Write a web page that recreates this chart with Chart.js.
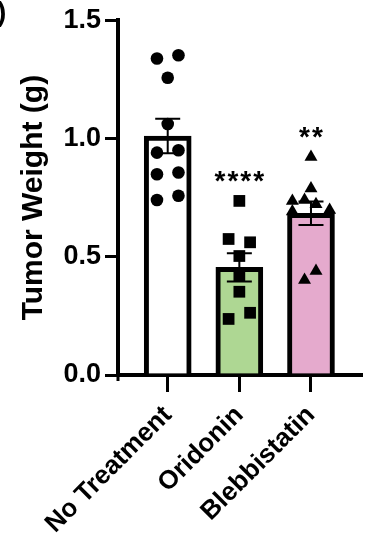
<!DOCTYPE html>
<html>
<head>
<meta charset="utf-8">
<script src="https://cdn.jsdelivr.net/npm/chart.js@4/dist/chart.umd.min.js"></script>
<style>
  html, body { margin: 0; padding: 0; background: #ffffff; }
  #wrap { width: 370px; height: 540px; }
</style>
</head>
<body>
<div id="wrap"><canvas id="c" width="370" height="540"></canvas></div>
<script>
// ---- data ----
const categories = ['No Treatment', 'Oridonin', 'Blebbistatin'];
const means = [1.01, 0.455, 0.684];
const sems = [0.073, 0.06, 0.05];
const noTreatment = [1.338, 1.352, 1.257, 1.061, 0.940, 0.950, 0.849, 0.856, 0.740, 0.758];
const oridonin = [0.736, 0.575, 0.561, 0.503, 0.419, 0.352, 0.237, 0.263];
const blebbistatin = [0.922, 0.789, 0.736, 0.740, 0.722, 0.691, 0.698, 0.402, 0.440];
const significance = ['', '****', '**'];
const yTicks = [0, 0.5, 1.0, 1.5];

// horizontal scatter (jitter) offsets, in category units
const jitterNoTreatment = [-0.15, 0.15, 0, 0, -0.15, 0.15, -0.15, 0.15, -0.15, 0.15];
const jitterOridonin = [0, -0.15, 0.15, 0, 0, 0, -0.15, 0.15];
const jitterBlebbistatin = [0, 0, -0.26, -0.09, 0.07, -0.26, 0.26, -0.09, 0.07];

const barColors = ['#ffffff', '#aed793', '#e5aacd'];
const FONT = '"Liberation Sans", Arial, Helvetica, sans-serif';

function pts(values, jitter, idx) {
  return values.map((v, i) => ({ x: idx + jitter[i], y: v }));
}

const errorBarPlugin = {
  id: 'errorBars',
  afterDatasetDraw(chart, args) {
    if (args.index !== 0) return;
    const ctx = chart.ctx;
    const xs = chart.scales.x, ys = chart.scales.y;
    ctx.save();
    ctx.strokeStyle = '#000';
    ctx.lineWidth = 2;
    means.forEach((m, i) => {
      const x = xs.getPixelForValue(i);
      const yt = ys.getPixelForValue(m + sems[i]);
      const yb = ys.getPixelForValue(m - sems[i]);
      const half = 12.5;
      ctx.beginPath();
      ctx.moveTo(x, yt); ctx.lineTo(x, yb);
      ctx.moveTo(x - half, yt); ctx.lineTo(x + half, yt);
      ctx.moveTo(x - half, yb); ctx.lineTo(x + half, yb);
      ctx.stroke();
    });
    ctx.restore();
  }
};

const annotPlugin = {
  id: 'annot',
  afterDraw(chart) {
    const ctx = chart.ctx;
    const xs = chart.scales.x, ys = chart.scales.y;
    const groups = [noTreatment, oridonin, blebbistatin];
    ctx.save();
    ctx.fillStyle = '#000';
    ctx.font = 'bold 28px ' + FONT;
    ctx.textAlign = 'center';
    ctx.textBaseline = 'middle';
    try { ctx.letterSpacing = '2px'; } catch (e) {}
    significance.forEach((s, i) => {
      if (!s) return;
      const top = Math.max(...groups[i]);
      ctx.fillText(s, xs.getPixelForValue(i) + 1, ys.getPixelForValue(top) - 19);
    });
    try { ctx.letterSpacing = '0px'; } catch (e) {}
    // y-axis line continues slightly below the x-axis
    ctx.strokeStyle = '#000';
    ctx.lineWidth = 3;
    ctx.beginPath();
    ctx.moveTo(chart.chartArea.left, chart.chartArea.bottom);
    ctx.lineTo(chart.chartArea.left, chart.chartArea.bottom + 6);
    ctx.stroke();
    // cut-off panel label at the top-left
    ctx.font = 'bold 28px ' + FONT;
    ctx.textAlign = 'left';
    ctx.textBaseline = 'alphabetic';
    ctx.fillText(')', -3, 21);
    ctx.restore();
  }
};

new Chart(document.getElementById('c'), {
  data: {
    datasets: [
      {
        type: 'bar',
        order: 1,
        data: means.map((m, i) => ({ x: i, y: m })),
        backgroundColor: barColors,
        borderColor: '#000',
        borderWidth: 5,
        barThickness: 47
      },
      {
        type: 'scatter', order: 0, clip: false,
        data: pts(noTreatment, jitterNoTreatment, 0),
        pointStyle: 'circle', pointRadius: 6.3, pointBorderWidth: 0,
        backgroundColor: '#000', borderColor: '#000'
      },
      {
        type: 'scatter', order: 0, clip: false,
        data: pts(oridonin, jitterOridonin, 1),
        pointStyle: 'rect', pointRadius: 8.3, pointBorderWidth: 0,
        backgroundColor: '#000', borderColor: '#000'
      },
      {
        type: 'scatter', order: 0, clip: false,
        data: pts(blebbistatin, jitterBlebbistatin, 2),
        pointStyle: 'triangle', pointRadius: 7.5, pointBorderWidth: 0,
        backgroundColor: '#000', borderColor: '#000'
      }
    ]
  },
  options: {
    responsive: false,
    animation: false,
    devicePixelRatio: 1,
    layout: { padding: { top: 17, right: 7, left: 0, bottom: 0 } },
    plugins: { legend: { display: false }, tooltip: { enabled: false } },
    scales: {
      x: {
        type: 'linear',
        offset: false,
        min: -0.694,
        max: 2.708,
        afterBuildTicks(s) { s.ticks = categories.map((c, i) => ({ value: i })); },
        afterFit(s) { s.height = 165; },
        ticks: {
          autoSkip: false,
          minRotation: 45,
          maxRotation: 45,
          padding: 8,
          color: '#000',
          font: { family: FONT, size: 26, weight: 'bold' },
          callback: (v) => categories[v]
        },
        grid: { offset: false, drawOnChartArea: false, color: '#000', tickColor: '#000', lineWidth: 3, tickLength: 17 },
        border: { color: '#000', width: 4 }
      },
      y: {
        type: 'linear',
        min: 0,
        max: 1.5,
        afterBuildTicks(s) { s.ticks = yTicks.map(v => ({ value: v })); },
        afterFit(s) { s.width = 118; },
        ticks: {
          padding: 4,
          color: '#000',
          font: { family: FONT, size: 27, weight: 'bold' },
          callback: (v) => Number(v).toFixed(1)
        },
        grid: { drawOnChartArea: false, color: '#000', tickColor: '#000', lineWidth: 3, tickLength: 13 },
        border: { color: '#000', width: 4 },
        title: {
          display: true,
          text: 'Tumor Weight (g)',
          color: '#000',
          font: { family: FONT, size: 30, weight: 'bold' },
          padding: { top: 15.5, bottom: 0 }
        }
      }
    }
  },
  plugins: [errorBarPlugin, annotPlugin]
});
</script>
</body>
</html>
